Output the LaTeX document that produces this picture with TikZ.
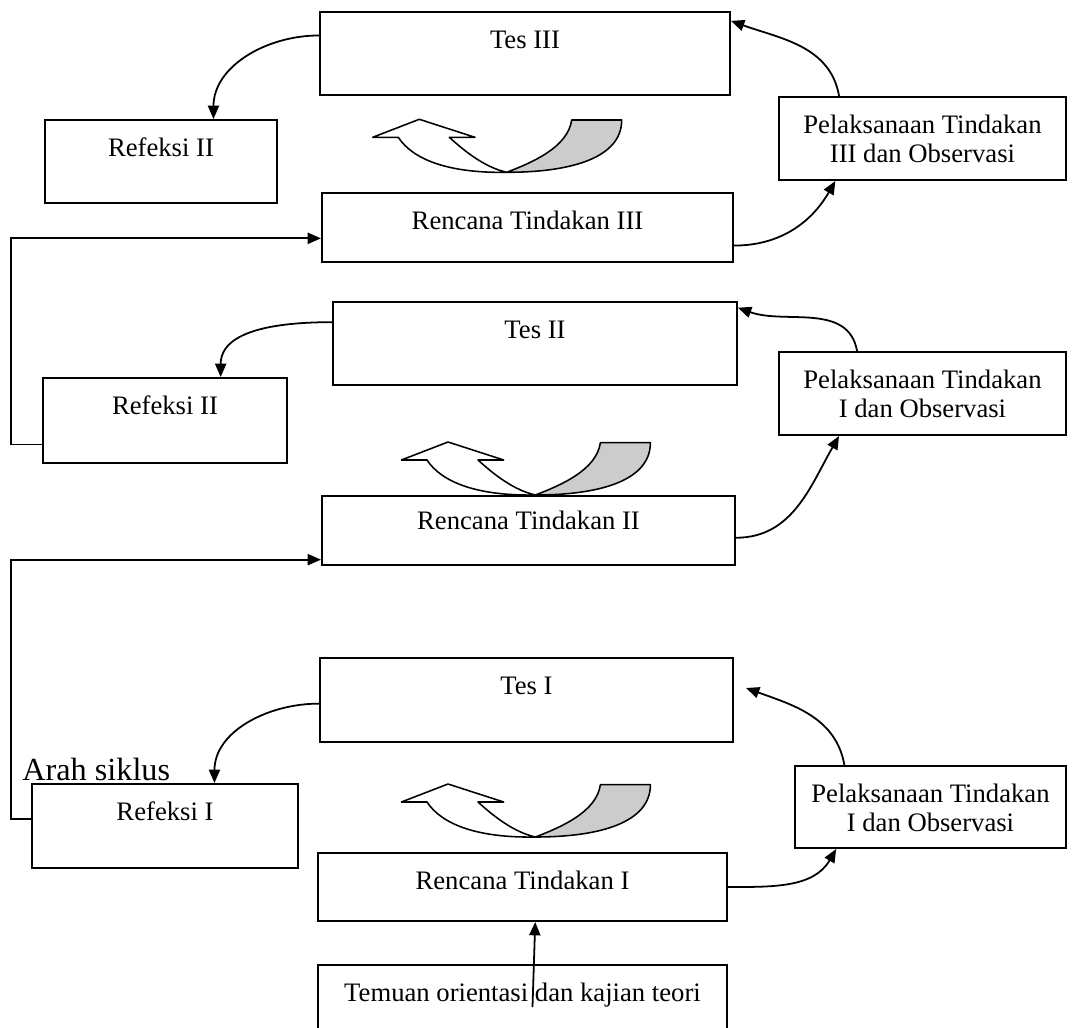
\documentclass[tikz,border=0pt]{standalone}
\usepackage{fontspec}
\setmainfont{Liberation Serif}
\usetikzlibrary{arrows.meta, calc, fit}

\begin{document}
\begin{tikzpicture}[
    x=0.45pt, y=-0.45pt, >={Triangle[length=6pt, width=5pt]},
    font=\fontsize{12pt}{13.3pt}\selectfont,
    box/.style={draw, line width=0.9pt, inner sep=0pt},
    boxtext/.style={anchor=base, yshift=-17pt, align=center, inner sep=0pt},
    link/.style={->, line width=0.8pt},
    uturn/.pic={
      \fill[white] (0,0) -- (46.6,-18) -- (102.3,0) -- (76.6,0)
        .. controls (92,14) and (112,30) .. (134,35)
        .. controls (75,36) and (40,22) .. (25.6,0) -- cycle;
      \fill[gray!40] (134,35) .. controls (160,25) and (195,10) .. (199,-17.3)
        -- (249,-17.3) .. controls (249,20) and (200,35) .. (134,35) -- cycle;
      \draw[line width=0.7pt, line join=round] (0,0) -- (46.6,-18) -- (102.3,0)
        -- (76.6,0) .. controls (92,14) and (112,30) .. (134,35)
        .. controls (75,36) and (40,22) .. (25.6,0) -- cycle;
      \draw[line width=0.7pt, line join=round] (134,35)
        .. controls (160,25) and (195,10) .. (199,-17.3) -- (249,-17.3)
        .. controls (249,20) and (200,35) .. (134,35);
    }
  ]
  \useasboundingbox (0,0) rectangle (1077,1028);

  \node[box, fit={(320,12) (730,95)}, label={[boxtext]north:Tes III}] (tes3) {};
  \node[box, fit={(45,120) (277,203)}, label={[boxtext]north:Refeksi II}] (ref2a) {};
  \node[box, fit={(779,97) (1066,180)},
    label={[boxtext, yshift=-13pt]north:Pelaksanaan Tindakan\\III dan Observasi}] (pel3) {};
  \node[box, fit={(322,193) (733,262)}, label={[boxtext]north:Rencana Tindakan III}] (ren3) {};

  \node[box, fit={(333,302) (737,385)}, label={[boxtext]north:Tes II}] (tes2) {};
  \node[box, fit={(43,378) (287,463)}, label={[boxtext]north:Refeksi II}] (ref2b) {};
  \node[box, fit={(779,352) (1066,435)},
    label={[boxtext, yshift=-13pt]north:Pelaksanaan Tindakan\\I dan Observasi}] (pel2) {};
  \node[box, fit={(322,496) (735,565)},
    label={[boxtext, yshift=1.5pt]north:Rencana Tindakan II}] (ren2) {};

  \node[box, fit={(320,658) (733,742)}, label={[boxtext]north:Tes I}] (tes1) {};
  \node[box, fit={(32,784) (298,868)}, label={[boxtext]north:Refeksi I}] (ref1) {};
  \node[box, fit={(795,766) (1066,848)},
    label={[boxtext, yshift=-13pt]north:Pelaksanaan Tindakan\\I dan Observasi}] (pel1) {};
  \node[box, fit={(318,853) (727,921)}, label={[boxtext]north:Rencana Tindakan I}] (ren1) {};
  \node[box, fit={(318,965) (727,1045)},
    label={[boxtext]north:Temuan orientasi dan kajian teori}] (temuan) {};

  \node[anchor=base west, inner sep=0pt, font=\fontsize{14.5pt}{16pt}\selectfont]
    (arah) at (22,780) {Arah siklus};

  \pic (turn3) at (372.7,137.3) {uturn};
  \pic (turn2) at (401.4,460) {uturn};
  \pic (turn1) at (401.4,802) {uturn};

  \draw[link] (tes3.175) to[out=180, in=90] (ref2a.39);
  \draw[link] (pel3.153) to[out=100, in=-20] (tes3.9);
  \draw[link] (ren3.-5) to[out=0, in=-120] (pel3.206);
  \draw[link] (ref2b.191) -- ++(-31,0) |- (ren3.183);

  \draw[link] (tes2.174) to[out=180, in=90] (ref2b.38);
  \draw[link] (pel2.147) to[out=100, in=-20] (tes2.10);
  \draw[link] (ren2.-2) to[out=0, in=-120] (pel2.207);
  \draw[link] (ref1.177) -- ++(-20,0) |- (ren2.188);

  \coordinate (tes1in) at ($(tes1.east)+(12,-12)$);
  \draw[link] (tes1.181) to[out=180, in=90] (ref1.41);
  \draw[link] (pel1.154) to[out=100, in=-20] (tes1in);
  \draw[link] (ren1.east) to[out=0, in=-120] (pel1.204);
  \draw[link] ($(temuan.center)+(10,2)$) -- (ren1.-70);
\end{tikzpicture}
\end{document}
